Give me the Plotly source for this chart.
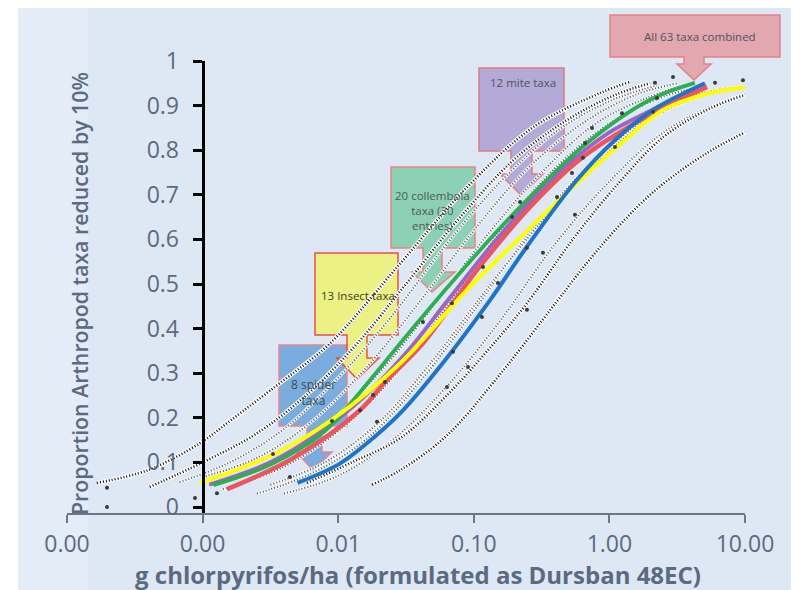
import numpy as np
import plotly.graph_objects as go

# ---------------- data: log10(dose g/ha) and proportion of taxa ----------------
yellow_logdose = [-3.02, -2.48, -2.05, -1.54, -1.05, -0.73, -0.23, 0.054, 0.395, 0.70, 1.02]
yellow_prop = [0.054, 0.117, 0.195, 0.323, 0.487, 0.583, 0.729, 0.807, 0.89, 0.925, 0.942]

green_logdose = [-2.92, -2.5, -2.1, -1.93, -1.52, -1.23, -0.73, -0.165, 0.30, 0.63]
green_prop = [0.049, 0.095, 0.17, 0.225, 0.375, 0.48, 0.65, 0.816, 0.913, 0.951]

purple_logdose = [-2.95, -2.5, -2.1, -1.8, -1.5, -1.2, -0.9, -0.6, -0.3, 0.0, 0.3, 0.65]
purple_prop = [0.05, 0.10, 0.175, 0.25, 0.345, 0.46, 0.575, 0.68, 0.77, 0.84, 0.888, 0.94]

red_logdose = [-2.82, -2.33, -1.84, -1.64, -1.375, -0.977, -0.585, -0.195, 0.32, 0.72]
red_prop = [0.04, 0.11, 0.217, 0.285, 0.367, 0.531, 0.673, 0.785, 0.883, 0.942]

blue_logdose = [-2.30, -2.0, -1.82, -1.54, -1.27, -0.88, -0.61, -0.24, 0.05, 0.32, 0.705]
blue_prop = [0.054, 0.095, 0.135, 0.211, 0.307, 0.464, 0.583, 0.733, 0.825, 0.89, 0.95]

# individual taxon fits (dotted)
d1_logdose = [-3.78, -3.4, -3.02, -2.79, -2.43, -2.06, -1.54, -1.05, -0.56, -0.07, 0.15]
d1_prop = [0.054, 0.083, 0.143, 0.195, 0.278, 0.367, 0.547, 0.717, 0.852, 0.928, 0.953]
d2_logdose = [-3.39, -3.0, -2.6, -2.2, -1.85, -1.5, -1.1, -0.7, -0.3, 0.05, 0.3]
d2_prop = [0.045, 0.10, 0.165, 0.26, 0.37, 0.50, 0.65, 0.78, 0.87, 0.925, 0.95]
d3_logdose = [-3.17, -2.8, -2.4, -2.0, -1.6, -1.2, -0.8, -0.4, 0.0, 0.35]
d3_prop = [0.056, 0.10, 0.175, 0.29, 0.43, 0.59, 0.73, 0.84, 0.91, 0.945]
d4_logdose = [-3.0, -2.6, -2.2, -1.8, -1.4, -1.0, -0.6, -0.2, 0.2, 0.5]
d4_prop = [0.067, 0.11, 0.19, 0.31, 0.46, 0.62, 0.76, 0.86, 0.925, 0.95]
d5_logdose = [-2.85, -2.4, -2.0, -1.6, -1.2, -0.8, -0.4, 0.0, 0.4, 0.7]
d5_prop = [0.04, 0.09, 0.17, 0.29, 0.45, 0.62, 0.76, 0.86, 0.92, 0.945]
d6_logdose = [-2.6, -2.2, -1.8, -1.4, -1.0, -0.6, -0.2, 0.2, 0.6, 0.9]
d6_prop = [0.03, 0.075, 0.15, 0.28, 0.44, 0.61, 0.75, 0.855, 0.92, 0.94]
d7_logdose = [-2.4, -2.0, -1.6, -1.2, -0.8, -0.4, 0.0, 0.4, 0.8, 1.0]
d7_prop = [0.03, 0.07, 0.15, 0.27, 0.42, 0.59, 0.73, 0.84, 0.905, 0.925]
d8_logdose = [-2.23, -1.9, -1.54, -1.2, -0.9, -0.6, -0.27, 0.05, 0.4, 0.75, 1.06]
d8_prop = [0.054, 0.10, 0.155, 0.25, 0.35, 0.46, 0.60, 0.72, 0.83, 0.895, 0.93]
d9_logdose = [-1.75, -1.54, -1.2, -0.8, -0.39, -0.09, 0.3, 0.7, 1.0]
d9_prop = [0.05, 0.083, 0.16, 0.30, 0.46, 0.575, 0.70, 0.79, 0.84]
d10_logdose = [-2.5, -2.1, -1.7, -1.3, -0.9, -0.5, -0.1, 0.3, 0.7, 0.95]
d10_prop = [0.05, 0.10, 0.19, 0.33, 0.49, 0.64, 0.77, 0.87, 0.925, 0.94]
d11_logdose = [-2.95, -2.5, -2.1, -1.7, -1.3, -0.9, -0.5, -0.1, 0.3, 0.6]
d11_prop = [0.05, 0.10, 0.18, 0.30, 0.45, 0.61, 0.75, 0.86, 0.92, 0.95]

# observed taxon points
dots_logdose = [-3.705, -3.705, -3.056, -2.894, -2.481, -2.046, -1.655, -1.839, -1.743, -2.356,
                -1.714, -1.375, -1.161, -0.932, -0.822, -0.718, -0.659, -0.608, -0.608, -0.49,
                -0.94, -1.153, -1.043, -1.198, 0.469, 0.336, 0.351, 0.322, 0.093, -0.128,
                -0.18, -0.195, 0.041, -0.276, -0.386, -0.254, 0.779, 0.985]
dots_prop = [0.043, 0.0, 0.02, 0.031, 0.119, 0.193, 0.28, 0.217, 0.251, 0.067,
             0.191, 0.415, 0.457, 0.538, 0.502, 0.65, 0.684, 0.581, 0.442, 0.57,
             0.426, 0.348, 0.314, 0.269, 0.964, 0.951, 0.917, 0.886, 0.883, 0.85,
             0.816, 0.783, 0.807, 0.749, 0.695, 0.655, 0.951, 0.957]

x_tickvals = [0.0001, 0.001, 0.01, 0.1, 1, 10]
x_ticktext = ["0.00", "0.00", "0.01", "0.10", "1.00", "10.00"]
y_tickvals = [0, 0.1, 0.2, 0.3, 0.4, 0.5, 0.6, 0.7, 0.8, 0.9, 1]
y_ticktext = ["0", "0.1", "0.2", "0.3", "0.4", "0.5", "0.6", "0.7", "0.8", "0.9", "1"]

# ---------------- layout geometry (page has an 8px body margin) ----------------
OFF = 8
W, H = 799 - OFF, 590 - OFF
PLOT_L, PLOT_R, PLOT_T, PLOT_B = 67, 745, 61, 513   # screen pixels
L, T = PLOT_L - OFF, PLOT_T - OFF
R, B = 799 - PLOT_R, 590 - PLOT_B
PW, PH = PLOT_R - PLOT_L, PLOT_B - PLOT_T


def px(xp):
    return (xp - PLOT_L) / PW


def py(yp):
    return (PLOT_B - yp) / PH


fig = go.Figure()


def add_line(lx, y, color, width, dash=None, opacity=1.0):
    fig.add_trace(go.Scatter(
        x=10 ** np.array(lx), y=y, mode="lines",
        line=dict(color=color, width=width, dash=dash, shape="spline", smoothing=1.0),
        opacity=opacity, hoverinfo="skip", showlegend=False))


bright = [(d1_logdose, d1_prop), (d2_logdose, d2_prop), (d8_logdose, d8_prop), (d9_logdose, d9_prop)]
grey = [(d3_logdose, d3_prop), (d4_logdose, d4_prop), (d5_logdose, d5_prop),
        (d6_logdose, d6_prop), (d7_logdose, d7_prop), (d10_logdose, d10_prop),
        (d11_logdose, d11_prop)]

for lx, y in grey:
    add_line(lx, y, "white", 3.2, opacity=0.85)
    add_line(lx, y, "#4a4a4a", 2.0, dash="1px,2px", opacity=0.9)
for lx, y in bright:
    add_line(lx, y, "white", 4.2)
    add_line(lx, y, "#111111", 2.6, dash="1px,2px")

add_line(purple_logdose, purple_prop, "#9b65c4", 4)
add_line(red_logdose, red_prop, "#ea5560", 4.5)
add_line(green_logdose, green_prop, "#2eae52", 3.8)
add_line(yellow_logdose, yellow_prop, "#ffff00", 4)
add_line(blue_logdose, blue_prop, "#1f74c8", 4)

fig.add_trace(go.Scatter(
    x=10 ** np.array(dots_logdose), y=dots_prop, mode="markers",
    marker=dict(color="#3a3a3a", size=4), hoverinfo="skip", showlegend=False))

# ---------------- background and call-out shapes ----------------
shapes = [
    dict(type="rect", xref="paper", yref="paper", x0=px(18), x1=px(800), y0=py(7), y1=py(591),
         fillcolor="#dde8f4", line=dict(width=0), layer="below"),
    dict(type="rect", xref="paper", yref="paper", x0=px(18), x1=px(88), y0=py(7), y1=py(591),
         fillcolor="#e3ecf7", line=dict(width=0), layer="below"),
]


def callout(box, shaft, head, tip, fill, edge):
    x0, y0, x1, y1 = box
    sx0, sx1, sy = shaft
    hx0, hx1 = head
    tx, ty = tip
    pts = [(x0, y0), (x1, y0), (x1, y1), (sx1, y1), (sx1, sy), (hx1, sy), (tx, ty),
           (hx0, sy), (sx0, sy), (sx0, y1), (x0, y1)]
    path = "M " + " L ".join(f"{px(a):.5f},{py(b):.5f}" for a, b in pts) + " Z"
    return dict(type="path", xref="paper", yref="paper", path=path, fillcolor=fill,
                line=dict(color=edge, width=1.5), opacity=0.92, layer="below")


shapes.append(callout((279, 345, 347, 426), (307, 322, 452), (296, 332), (313, 470), "#72a9dc", "#f07a86"))
shapes.append(callout((315, 253, 398, 335), (347, 367, 358), (337, 379), (357, 379), "#eef27c", "#f04040"))
shapes.append(callout((391, 167, 475, 248), (423, 442, 272), (412, 455), (432, 292), "#86cfb0", "#ef7a7a"))
shapes.append(callout((479, 68, 564, 151), (511, 532, 174), (500, 543), (521, 195), "#b0a5d5", "#e07078"))
shapes.append(callout((610, 15, 780, 57), (684, 704, 64), (677, 711), (694, 80), "#e3a2aa", "#e57a80"))

txt_font = dict(family="Open Sans", size=11.5, color="#4f5462")
annotations = [
    dict(text="All 63 taxa combined", x=px(700), y=py(36), font=txt_font),
    dict(text="12 mite taxa", x=px(523), y=py(82), font=txt_font),
    dict(text="20 collembola<br>taxa (30<br>entries)", x=px(433), y=py(210),
         font=dict(family="Open Sans", size=11.5, color="#4d5a55")),
    dict(text="13 Insect taxa", x=px(358), y=py(295), font=dict(family="Open Sans", size=11.5, color="#3a3a2a")),
    dict(text="8 spider<br>taxa", x=px(313), y=py(392), font=dict(family="Open Sans", size=12, color="#3b4a5c")),
    dict(text="g chlorpyrifos/ha (formulated as Dursban 48EC)", x=px(418), y=py(574),
         font=dict(family="Open Sans", size=24, color="#5a6a80", weight="bold")),
    dict(text="Proportion Arthropod taxa reduced by 10%", x=px(79), y=py(294), textangle=-90,
         font=dict(family="Open Sans", size=21.3, color="#5a6a80", weight=600)),
]
for a in annotations:
    a.update(xref="paper", yref="paper", showarrow=False, xanchor="center", yanchor="middle")

tick_font = dict(family="Open Sans", size=23, color="#5a6a82")

fig.update_layout(
    width=W, height=H, margin=dict(l=L, r=R, t=T, b=B, autoexpand=False),
    paper_bgcolor="white", plot_bgcolor="rgba(0,0,0,0)",
    showlegend=False, shapes=shapes, annotations=annotations,
    xaxis=dict(type="log", range=[-4, 1], tickvals=x_tickvals, ticktext=x_ticktext,
               showline=True, linecolor="#6b7788", linewidth=1.5, ticks="outside", ticklen=8,
               tickcolor="#6b7788", tickwidth=1.5, tickfont=tick_font, showgrid=False,
               zeroline=False, ticklabelstandoff=2),
    yaxis=dict(range=[-0.01345, 1.0], anchor="free", position=0.2, tickvals=y_tickvals,
               ticktext=y_ticktext, showline=True, linecolor="black", linewidth=3,
               ticks="outside", ticklen=9, tickwidth=2.5, tickcolor="black", tickfont=tick_font,
               showgrid=False, zeroline=False, ticklabelstandoff=9),
)

fig.write_html("out.html")
